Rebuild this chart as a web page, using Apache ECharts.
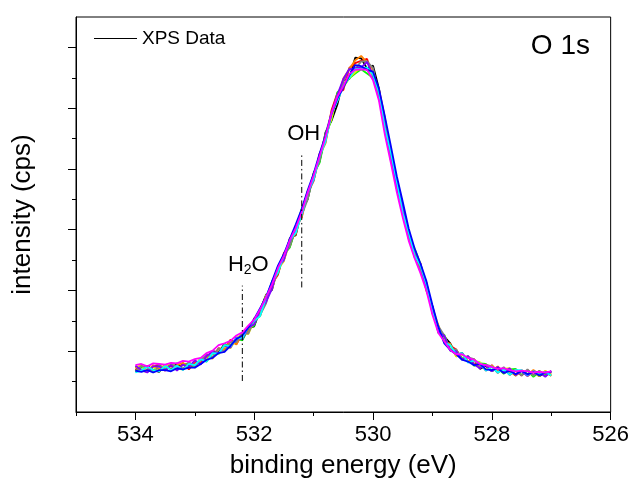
<!DOCTYPE html>
<html><head><meta charset="utf-8">
<script src="https://cdn.jsdelivr.net/npm/echarts@6/dist/echarts.min.js"></script>
<style>html,body{margin:0;padding:0;background:#fff}#c{width:632px;height:490px}</style>
</head><body><div id="c"></div>
<script>
// binding energy (eV), 0.1 eV steps
const energy = [534.0,533.9,533.8,533.7,533.6,533.5,533.4,533.3,533.2,533.1,
  533.0,532.9,532.8,532.7,532.6,532.5,532.4,532.3,532.2,532.1,
  532.0,531.9,531.8,531.7,531.6,531.5,531.4,531.3,531.2,531.1,
  531.0,530.9,530.8,530.7,530.6,530.5,530.4,530.3,530.2,530.1,
  530.0,529.9,529.8,529.7,529.6,529.5,529.4,529.3,529.2,529.1,
  529.0,528.9,528.8,528.7,528.6,528.5,528.4,528.3,528.2,528.1,
  528.0,527.9,527.8,527.7,527.6,527.5,527.4,527.3,527.2,527.1,527.0];

// intensity (arbitrary units) of each overlaid scan
const scanBlack = [74,67,76,69,66,77,70,80,70,78, 75,88,85,100,98,112,107,120,119,138,
  141,168,193,201,238,250,286,291,332,350, 393,412,460,479,506,546,548,583,582,565,
  570,532,464,428,367,339,297,255,242,200, 174,132,124,113,94,97,82,86,71,76,
  67,74,65,68,60,68,62,66,59,65,60];
const scanRed = [69,76,68,75,78,68,76,70,80,70, 82,81,94,90,105,102,119,112,128,131,
  154,159,190,211,226,262,272,303,320,362, 381,425,444,496,525,530,566,574,578,581,
  552,531,484,415,384,327,298,265,232,212, 163,142,115,109,103,87,91,78,81,68,
  77,66,72,61,68,60,69,61,67,60,65];
const scanGreen = [66,73,75,68,77,71,79,69,78,80, 73,87,83,97,96,111,109,122,118,137,
  142,169,182,215,228,259,271,302,335,351, 392,410,454,481,526,536,549,557,564,557,
  550,516,477,414,382,341,287,269,243,201, 173,130,127,101,101,88,92,76,80,79,
  67,72,63,70,71,61,68,58,66,61,67];
const scanOrange = [75,68,66,77,70,78,69,77,81,73, 84,79,91,88,104,103,116,111,131,131,
  151,158,191,204,239,251,282,293,331,363, 382,422,442,493,513,549,564,579,586,575,
  564,518,479,431,371,338,285,266,234,213, 162,141,116,112,92,95,83,87,73,78,
  68,75,64,69,60,69,61,69,61,67,59];
const scanYellow = [73,77,67,74,67,77,80,71,70,81, 76,89,84,99,95,108,105,121,129,128,
  150,159,192,203,235,248,281,305,322,359, 380,421,456,482,521,534,550,559,568,563,
  554,529,466,427,384,328,298,256,245,199, 172,143,114,110,91,96,82,84,82,69,
  76,65,71,72,62,68,59,66,59,68,61];
const scanGray = [67,76,73,65,76,70,78,76,71,82, 74,86,94,90,105,99,115,115,130,129,
  152,160,179,213,229,260,273,304,324,350, 391,413,457,492,512,544,565,564,577,577,
  566,517,476,416,381,339,288,267,233,209, 165,141,126,102,103,86,90,87,74,78,
  75,64,74,63,70,60,70,60,68,59,66];
const scanPurple = [76,69,65,75,75,68,77,68,78,74, 85,78,92,99,97,109,106,123,120,139,
  144,169,181,203,238,250,282,296,333,360, 381,423,447,492,522,548,564,566,567,576,
  553,528,465,426,371,338,297,257,244,202, 173,132,125,101,100,86,92,78,72,77,
  67,74,65,72,61,67,59,67,65,58,68];
const scanCyan = [65,68,75,69,67,76,69,76,69,79, 77,87,83,97,96,110,108,121,122,140,
  150,158,189,214,230,258,283,295,325,361, 383,421,445,490,512,536,550,564,565,567,
  555,526,466,427,379,327,296,257,241,210, 164,139,114,110,95,97,81,85,80,68,
  74,65,70,61,69,69,61,67,61,66,60];
const scanBlue = [68,66,69,65,69,69,67,72,70,73, 73,79,86,89,97,99,109,120,126,139,
  153,171,189,215,241,260,285,309,334,365, 392,425,455,490,516,534,554,571,569,563,
  560,532,486,438,388,346,302,269,244,215, 176,140,113,102,95,86,83,77,79,70,
  69,72,64,68,62,68,62,66,60,65,66];
const scanMagenta = [77,79,75,80,79,78,81,80,84,83, 87,89,97,101,110,113,117,126,131,142,
  152,169,189,210,237,257,283,303,329,361, 389,421,452,491,519,536,556,563,564,563,
  546,512,456,410,362,320,282,253,228,199, 160,130,116,102,95,95,89,86,79,77,
  74,71,72,69,67,68,67,65,66,65,67];

const xMajorTicks = [534, 532, 530, 528, 526];
const xMinorTicks = [535, 533, 531, 529, 527];
const yMajorTicks = [100, 200, 300, 400, 500, 600];
const yMinorTicks = [50, 150, 250, 350, 450, 550];

// reference peak positions: [energy, lower intensity, upper intensity]
const h2oLine = [532.2, 51, 208];
const ohLine = [531.2, 205, 427];

const scans = [
  ['XPS Data', scanBlack, '#000000'],
  ['red', scanRed, '#FF0000'],
  ['green', scanGreen, '#00FF00'],
  ['orange', scanOrange, '#FF8000'],
  ['yellow', scanYellow, '#E8E800'],
  ['gray', scanGray, '#808080'],
  ['purple', scanPurple, '#8000FF'],
  ['cyan', scanCyan, '#00FFFF'],
  ['blue', scanBlue, '#0000FF'],
  ['magenta', scanMagenta, '#FF00FF']
];

const FONT = 'Liberation Sans, Arial, sans-serif';
const series = scans.map(([name, vals, color]) => ({
  name, type: 'line', xAxisIndex: 0, yAxisIndex: 0,
  data: energy.map((e, i) => [e, vals[i]]),
  showSymbol: false, symbol: 'none', symbolSize: 0,
  lineStyle: { color, width: 1.8, opacity: 1 }, itemStyle: { color, opacity: 0 },
  emphasis: { disabled: true }, silent: true,
  z: 2
}));

function annot(line, text, dx) {
  return {
    name: 'annot', type: 'line', xAxisIndex: 0, yAxisIndex: 0,
    data: [[line[0], line[1]], [line[0], line[2]]],
    symbol: 'none',
    lineStyle: { color: '#000', width: 1, type: [6, 3, 1.5, 3] },
    itemStyle: { color: '#000' }, z: 3, silent: true, emphasis: { disabled: true },
    markPoint: {
      symbol: 'circle', symbolSize: 0, silent: true,
      data: [{ coord: [line[0], line[2]], value: 0 }],
      label: { show: true, position: 'top', distance: 8, offset: [dx, 0], formatter: text, color: '#000',
        fontFamily: FONT, fontSize: 22,
        rich: { sub: { fontSize: 14, fontFamily: FONT, color: '#000', padding: [12, 0, 0, 0] } } }
    }
  };
}
series.push(annot(h2oLine, 'H{sub|2}O', 6));
series.push(annot(ohLine, 'OH', 2));

const chart = echarts.init(document.getElementById('c'), null, { renderer: 'canvas' });
chart.setOption({
  animation: false,
  backgroundColor: '#fff',
  grid: { left: 76, right: 20, top: 17, bottom: 78, show: true, borderColor: '#000', borderWidth: 1, backgroundColor: 'transparent' },
  title: { text: 'O 1s', right: 37, top: 27, textStyle: { fontFamily: FONT, fontSize: 28, fontWeight: 'normal', color: '#000' } },
  legend: {
    data: ['XPS Data'], left: 94, top: 29, padding: 0, itemWidth: 43, itemHeight: 1.2, icon: 'rect',
    itemStyle: { color: '#000', borderWidth: 0, opacity: 1 },
    textStyle: { fontFamily: FONT, fontSize: 19, color: '#000' }
  },
  xAxis: [{
    type: 'value', inverse: true, min: 526, max: 535, position: 'bottom',
    name: 'binding energy (eV)', nameLocation: 'middle', nameGap: 41,
    nameTextStyle: { fontFamily: FONT, fontSize: 26, color: '#000' },
    axisLine: { show: true, lineStyle: { color: '#000', width: 1 } },
    axisTick: { show: true, inside: false, length: 8, customValues: xMajorTicks, lineStyle: { color: '#000' } },
    axisLabel: { show: true, customValues: xMajorTicks, margin: 12, fontFamily: FONT, fontSize: 22, color: '#000' },
    splitLine: { show: false }
  }, {
    type: 'value', inverse: true, min: 526, max: 535, position: 'bottom',
    axisLine: { show: false },
    axisTick: { show: true, inside: false, length: 4, customValues: xMinorTicks, lineStyle: { color: '#000' } },
    axisLabel: { show: false }, splitLine: { show: false }
  }],
  yAxis: [{
    type: 'value', min: 0, max: 650, position: 'left',
    name: 'intensity (cps)', nameLocation: 'middle', nameGap: 40, nameRotate: 90,
    nameTextStyle: { fontFamily: FONT, fontSize: 26, color: '#000' },
    axisLine: { show: true, lineStyle: { color: '#000', width: 1 } },
    axisTick: { show: true, inside: false, length: 8, customValues: yMajorTicks, lineStyle: { color: '#000' } },
    axisLabel: { show: false }, splitLine: { show: false }
  }, {
    type: 'value', min: 0, max: 650, position: 'left',
    axisLine: { show: false },
    axisTick: { show: true, inside: false, length: 4, customValues: yMinorTicks, lineStyle: { color: '#000' } },
    axisLabel: { show: false }, splitLine: { show: false }
  }],
  series
});
</script></body></html>
